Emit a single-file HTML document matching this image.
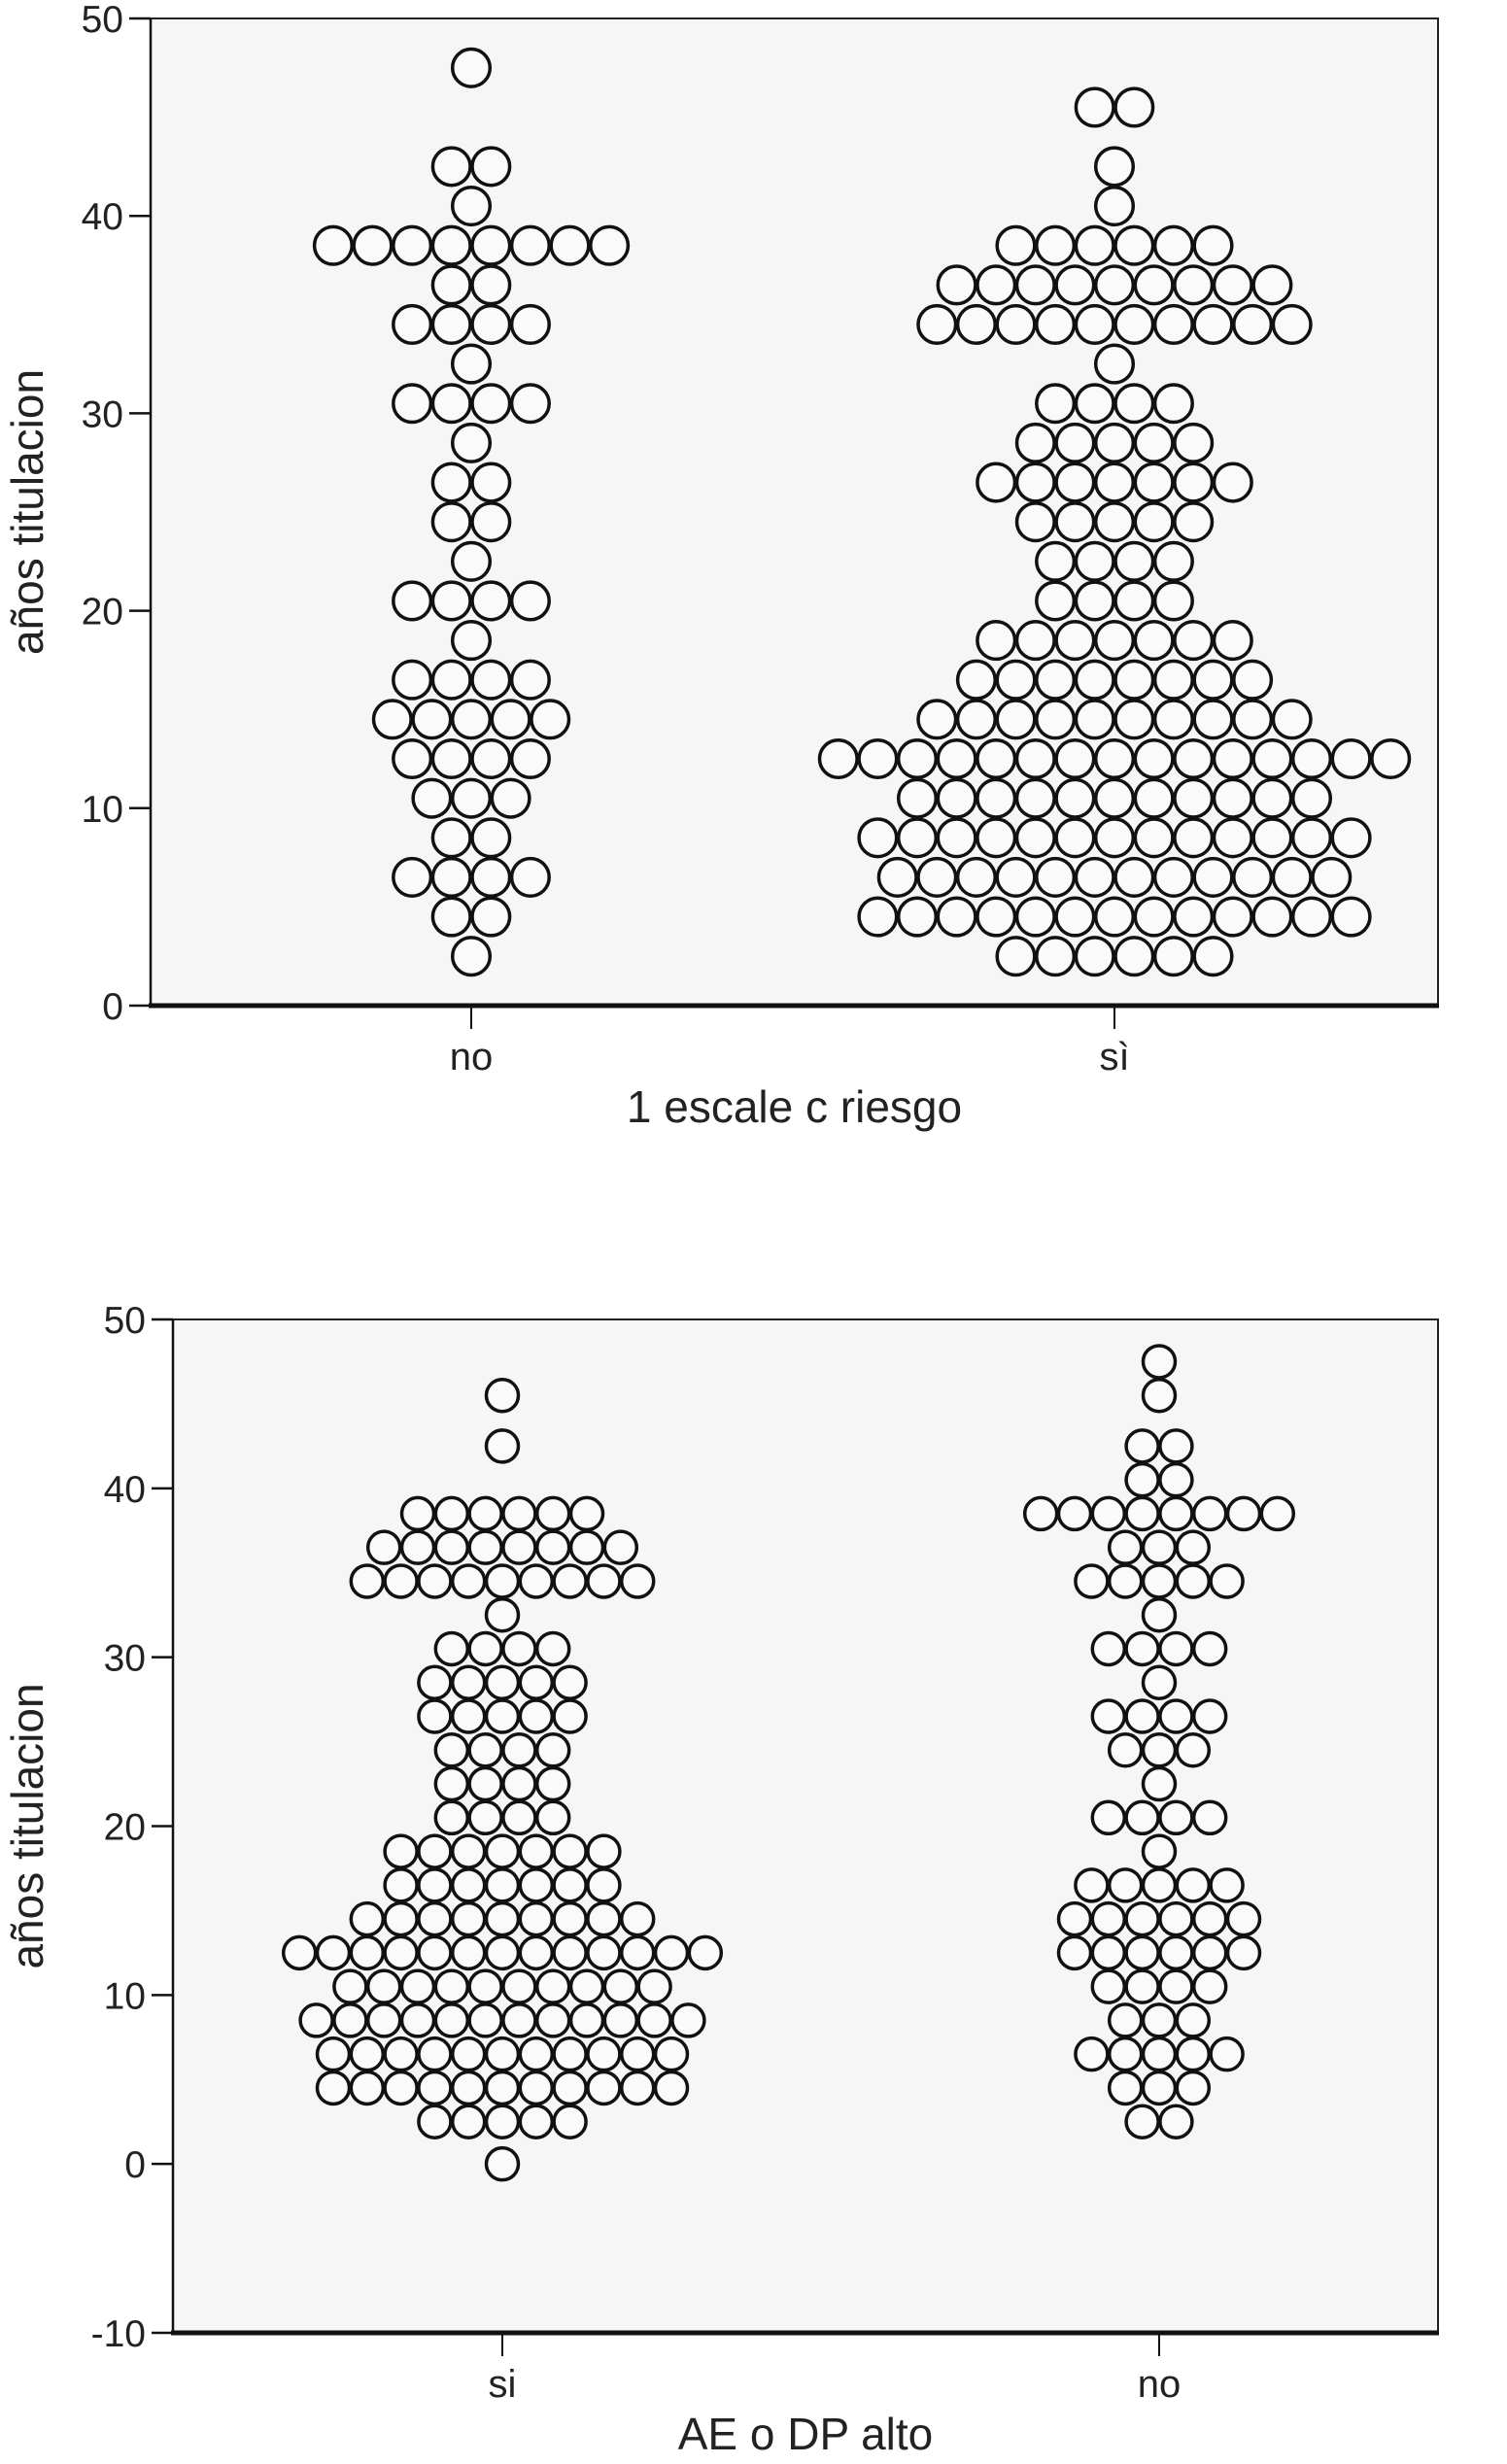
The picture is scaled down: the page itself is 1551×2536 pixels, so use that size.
<!DOCTYPE html>
<html><head><meta charset="utf-8"><style>
html,body{margin:0;padding:0;background:#fff;}
svg{display:block;font-family:"Liberation Sans",Arial,sans-serif;}
</style></head><body>
<svg id="chart" width="1551" height="2536" viewBox="0 0 1551 2536" xmlns="http://www.w3.org/2000/svg"></svg>
<script>
// Data: rows of stacked dots (value -> count) per category
const rowValues1 = [47.5,45.5,42.5,40.5,38.5,36.5,34.5,32.5,30.5,28.5,26.5,24.5,22.5,20.5,18.5,16.5,14.5,12.5,10.5,8.5,6.5,4.5,2.5];
const topNoCounts  = [1,0,2,1,8,2,4,1,4,1,2,2,1,4,1,4,5,4,3,2,4,2,1];
const topSiCounts  = [0,2,1,1,6,9,10,1,4,5,7,5,4,4,7,8,10,15,11,13,12,13,6];
const botRowValues = [47.5,45.5,42.5,40.5,38.5,36.5,34.5,32.5,30.5,28.5,26.5,24.5,22.5,20.5,18.5,16.5,14.5,12.5,10.5,8.5,6.5,4.5,2.5,0];
const botSiCounts  = [0,1,1,0,6,8,9,1,4,5,5,4,4,4,7,7,9,13,10,12,11,11,5,1];
const botNoCounts  = [1,1,2,2,8,3,5,1,4,1,4,3,1,4,1,5,6,6,4,3,5,3,2,0];
const topCategories = ["no","sì"];
const botCategories = ["si","no"];
const topTicks = [0,10,20,30,40,50];
const botTicks = [-10,0,10,20,30,40,50];

const NS="http://www.w3.org/2000/svg";
const svg=document.getElementById('chart');
function mk(tag,attrs,parent){const e=document.createElementNS(NS,tag);for(const k in attrs)e.setAttribute(k,attrs[k]);(parent||svg).appendChild(e);return e;}

function drawChart(cfg){
  const g=mk('g',{});
  
  
  const {L,R,T,B,ymin,ymax}=cfg;
  const y=v=>B-(v-ymin)/(ymax-ymin)*(B-T);
  const bg=mk('rect',{x:L,y:T,width:R-L,height:B-T,fill:'#f6f6f6',stroke:'#222','stroke-width':2},g);
  
  
  const xa=mk('line',{x1:L-2,y1:B,x2:R+1,y2:B,stroke:'#111','stroke-width':5},g);
  
  
  const ya=mk('line',{x1:L,y1:T,x2:L,y2:B,stroke:'#111','stroke-width':2.5},g);
  
  
  cfg.ticks.forEach(t=>{
    const tl=mk('line',{x1:L-22,y1:y(t),x2:L,y2:y(t),stroke:'#111','stroke-width':2.5},g);
    
    
    const tx=mk('text',{x:L-28,y:y(t)+14,'text-anchor':'end','font-size':39,fill:'#222'},g);
    tx.textContent=t;
    
    
  });
  const yt=mk('text',{x:0,y:0,'text-anchor':'middle','font-size':46,fill:'#222',transform:`translate(${cfg.yTitleX},${(T+B)/2}) rotate(-90)`},g);
  yt.textContent='años titulacion';
  
  
  cfg.cats.forEach((c,i)=>{
    const cx=cfg.catX[i];
    const tk=mk('line',{x1:cx,y1:B,x2:cx,y2:B+24,stroke:'#111','stroke-width':2},g);
    
    
    const lb=mk('text',{x:cx,y:B+66,'text-anchor':'middle','font-size':40,fill:'#222'},g);
    lb.textContent=c;
    
    
    const counts=cfg.series[i];
    cfg.rows.forEach((v,j)=>{
      const n=counts[j];
      for(let k=0;k<n;k++){
        const px=cx+(k-(n-1)/2)*cfg.step;
        const d=mk('circle',{cx:px,cy:y(v),r:cfg.r,fill:'#fafafa',stroke:'#111','stroke-width':3.5},g);
        
        
      }
    });
  });
  const xt=mk('text',{x:(L+R)/2,y:B+120,'text-anchor':'middle','font-size':46,fill:'#222'},g);
  xt.textContent=cfg.xTitle;
  
  
}

drawChart({name:'top-chart',L:155,R:1480,T:19,B:1035,ymin:0,ymax:50,ticks:topTicks,cats:topCategories,catX:[485,1147],
  series:[topNoCounts,topSiCounts],rows:rowValues1,step:40.6,r:19.3,xTitle:'1 escale c riesgo',yTitleX:44});
drawChart({name:'bottom-chart',L:178,R:1480,T:1358,B:2401,ymin:-10,ymax:50,ticks:botTicks,cats:botCategories,catX:[517,1193],
  series:[botSiCounts,botNoCounts],rows:botRowValues,step:34.8,r:16.5,xTitle:'AE o DP alto',yTitleX:44});
</script>
</body></html>
